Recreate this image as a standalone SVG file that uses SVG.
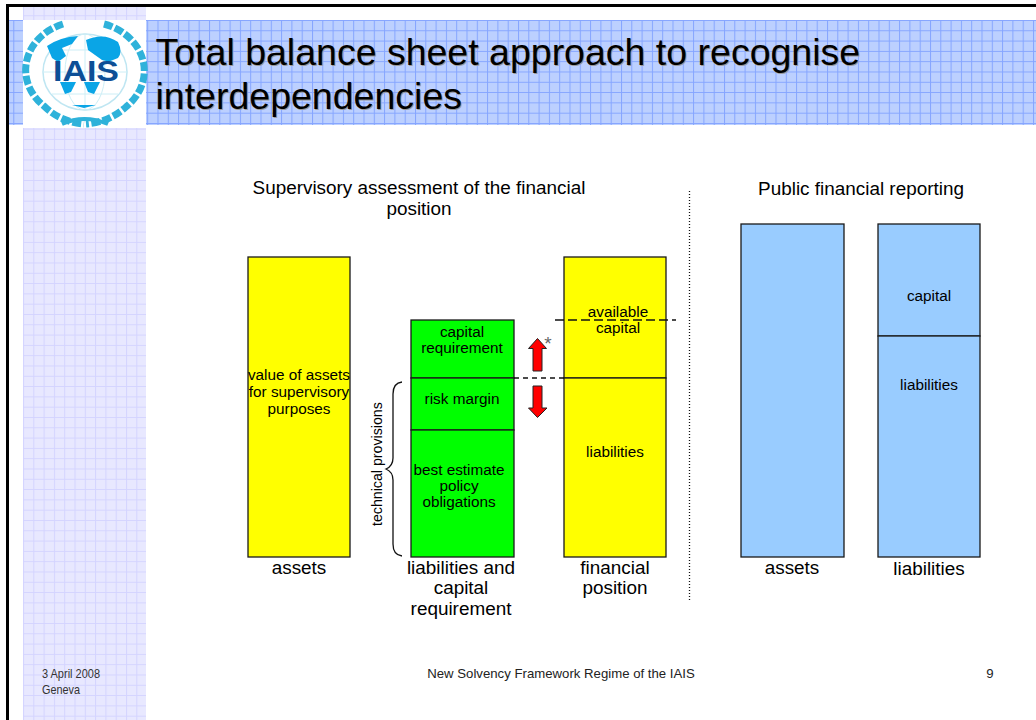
<svg xmlns="http://www.w3.org/2000/svg" width="1036" height="720" viewBox="0 0 1036 720">
<style>
text{font-family:"Liberation Sans",Arial,sans-serif;fill:#000}
.t{font-size:37.5px;fill:#000}
.s{font-size:37.5px;fill:#9a9a9a}
.h{font-size:18.9px}
.m{font-size:15.300px}
.c{text-anchor:middle}
.box{stroke:#1a1a1a;stroke-width:1.3}
.y{fill:#ffff00}.g{fill:#00ff00}.b{fill:#99ccff}
.ln{fill:none;stroke:#111;stroke-width:1.3}
.d{stroke-dasharray:9 4}
.ar{fill:#ff0000;stroke:#222;stroke-width:1}
.ft{font-size:13px;fill:#333}
</style>
<defs>
<pattern id="pb" width="10.3" height="10.3" patternUnits="userSpaceOnUse" x="3" y="20"><rect width="10.3" height="10.3" fill="#bcd0ff"/><path d="M0 .5H10.3M.5 0V10.3" stroke="#85a5ff" stroke-width="1" fill="none"/></pattern>
<pattern id="pl" width="10.3" height="10.3" patternUnits="userSpaceOnUse" x="23" y="5"><rect width="10.3" height="10.3" fill="#e8e8ff"/><path d="M0 .5H10.3M.5 0V10.3" stroke="#d4d4ff" stroke-width="1" fill="none"/></pattern>
</defs>
<rect width="1036" height="720" fill="#fff"/>
<rect x="8" y="20" width="1028" height="105" fill="url(#pb)"/>
<rect x="23" y="7" width="123" height="713" fill="url(#pl)"/>
<path d="M7.5 720V5.500H1036" fill="none" stroke="#000" stroke-width="3"/>
<g id="logo">
<rect x="23" y="20" width="123" height="108" fill="#fff"/>
<path d="M63 24A57 49 0 0 0 44 106Q60 122 84 124M104 24A57 49 0 0 1 127 106Q110 122 86 124" fill="none" stroke="#2fb2da" stroke-width="7" stroke-dasharray="9 2.500"/>
<ellipse cx="85" cy="72" rx="42" ry="38" fill="#fff" stroke="#bfe6f2" stroke-width="1.500"/>
<path d="M85 34V110M43 72H127M52 50H118M52 94H118" fill="none" stroke="#cdeef6" stroke-width="1"/>
<ellipse cx="85" cy="72" rx="20" ry="38" fill="none" stroke="#cdeef6" stroke-width="1"/>
<path d="M47 46Q60 37 78 36L72 44 62 48 66 56 58 62 52 58Z" fill="#0aa5e6"/>
<path d="M86 40Q104 32 118 42 123 52 118 58L108 62 110 62 102 60 88 50Z" fill="#0aa5e6"/>
<path d="M60 82H76L71 92 65 94ZM84 82H100L94 94 88 92ZM72 105H96L84 108Z" fill="#0aa5e6"/>
<path d="M62 124Q84 114 108 124" fill="none" stroke="#2fb2da" stroke-width="4"/>
<text x="53" y="81" font-size="29" font-weight="bold" textLength="66" lengthAdjust="spacingAndGlyphs" style="fill:#0d4f96">IAIS</text>
</g>
<g id="title">
<text x="156.500" y="66" class="s">Total balance sheet approach to recognise</text>
<text x="156.500" y="110" class="s">interdependencies</text>
<text x="155.500" y="64.500" class="t">Total balance sheet approach to recognise</text>
<text x="155.500" y="108.500" class="t">interdependencies</text>
</g>
<g id="heading-supervisory"><text x="419" y="194" class="h c">Supervisory assessment of the financial</text><text x="419" y="215" class="h c">position</text></g>
<g id="heading-public"><text x="861" y="195" class="h c">Public financial reporting</text></g>
<g id="assets-yellow"><rect x="248" y="257" width="102" height="300" class="box y"/><text x="299" y="380" class="m c">value of assets</text><text x="299" y="397" class="m c">for supervisory</text><text x="299" y="414" class="m c">purposes</text><text x="299" y="574" class="h c">assets</text></g>
<g id="capital-requirement"><rect x="411" y="320" width="103" height="58" class="box g"/><text x="462" y="337" class="m c">capital</text><text x="462" y="353" class="m c">requirement</text></g>
<g id="risk-margin"><rect x="411" y="378" width="103" height="52" class="box g"/><text x="462" y="404" class="m c">risk margin</text></g>
<g id="best-estimate"><rect x="411" y="430" width="103" height="127" class="box g"/><text x="459" y="475" class="m c">best estimate</text><text x="459" y="491" class="m c">policy</text><text x="459" y="507" class="m c">obligations</text></g>
<g id="liabilities-capital-label"><text x="461" y="574" class="h c">liabilities and</text><text x="461" y="594" class="h c">capital</text><text x="461" y="615" class="h c">requirement</text></g>
<g id="available-capital"><rect x="564" y="257" width="102" height="121" class="box y"/><text x="618" y="317" class="m c">available</text><text x="618" y="333" class="m c">capital</text></g>
<g id="liabilities-yellow"><rect x="564" y="378" width="102" height="179" class="box y"/><text x="615" y="457" class="m c">liabilities</text></g>
<g id="financial-position-label"><text x="615" y="574" class="h c">financial</text><text x="615" y="594" class="h c">position</text></g>
<g id="assets-blue"><rect x="741" y="224" width="103" height="333" class="box b"/><text x="792" y="574" class="h c">assets</text></g>
<g id="capital-blue"><rect x="878" y="224" width="102" height="112" class="box b"/><text x="929" y="301" class="m c">capital</text></g>
<g id="liabilities-blue"><rect x="878" y="336" width="102" height="221" class="box b"/><text x="929" y="390" class="m c">liabilities</text><text x="929" y="575" class="h c">liabilities</text></g>
<g id="technical-provisions"><text transform="translate(382 526) rotate(-90)" style="font-size:14.200px">technical provisions</text></g>
<g id="asterisk"><text x="548" y="350" font-size="19" class="c" style="fill:#666">*</text></g>
<g id="connectors">
<path class="ln d" d="M555 320H676"/>
<path class="ln" stroke-dasharray="5 4" d="M514 378H564"/>
<path class="ln" d="M689.500 191V601" stroke-dasharray="1 2" stroke-width="1"/>
<path class="ln" d="M402 382Q393 383 393 394V458Q393 466 386 469Q393 472 393 480V544Q393 555 402 556"/>
<path class="ar" d="M537.500 338.500L546.500 348.500H542V371H533V348.500H528.500Z"/>
<path class="ar" d="M537.500 417.500L547 408H542V386H533V408H528.500Z"/>
</g>
<g id="footer">
<text x="42" y="678" class="ft" textLength="58" lengthAdjust="spacingAndGlyphs">3 April 2008</text>
<text x="42" y="694" class="ft" textLength="38" lengthAdjust="spacingAndGlyphs">Geneva</text>
<text x="561" y="678" class="c" style="font-size:13.200px;fill:#222">New Solvency Framework Regime of the IAIS</text>
<text x="990" y="678" class="c" style="font-size:13.200px;fill:#222">9</text>
</g>
</svg>
